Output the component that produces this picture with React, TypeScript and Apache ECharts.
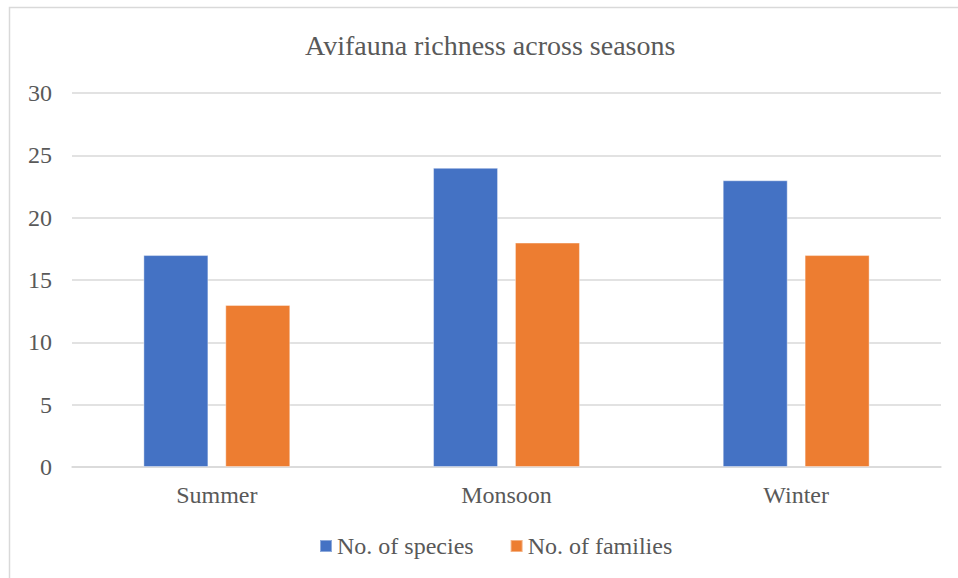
import React, { useEffect, useRef } from "react";
import * as echarts from "echarts";

const categories = ["Summer", "Monsoon", "Winter"];
const speciesValues = [17, 24, 23];
const familiesValues = [13, 18, 17];
const seriesNames = ["No. of species", "No. of families"];
const titleText = "Avifauna richness across seasons";

export default function App() {
  const ref = useRef<HTMLDivElement>(null);
  useEffect(() => {
    if (!ref.current) return;
    const chart = echarts.init(ref.current, null, { renderer: "svg" });
    const font = "Liberation Serif";
    const textColor = "#595959";
    chart.setOption({
      animation: false,
      backgroundColor: "#ffffff",
      textStyle: { fontFamily: font },
      graphic: [
        {
          type: "rect",
          shape: { x: 9.5, y: 7.5, width: 1000, height: 600 },
          style: { fill: "none", stroke: "#d9d9d9", lineWidth: 1.5 },
          silent: true,
          z: -1,
        },
      ],
      title: {
        text: titleText,
        left: 305,
        top: 31,
        padding: 0,
        textStyle: { fontFamily: font, fontSize: 28, fontWeight: "normal", color: textColor },
      },
      legend: {
        data: seriesNames,
        left: 319,
        top: 534,
        padding: 0,
        itemWidth: 12,
        itemHeight: 12,
        itemGap: 36,
        icon: "rect",
        textStyle: { fontFamily: font, fontSize: 24, color: textColor },
      },
      grid: { left: 72, right: 17, top: 93, bottom: 111, containLabel: false },
      xAxis: {
        type: "category",
        data: categories,
        axisLine: { show: true, lineStyle: { color: "#d9d9d9", width: 1.5 } },
        axisTick: { show: false },
        axisLabel: { fontFamily: font, fontSize: 24, color: textColor, margin: 16 },
      },
      yAxis: {
        type: "value",
        min: 0,
        max: 30,
        interval: 5,
        axisLine: { show: false },
        axisTick: { show: false },
        splitLine: { lineStyle: { color: "#d9d9d9", width: 1.5 } },
        axisLabel: { fontFamily: font, fontSize: 24, color: textColor, margin: 20 },
      },
      series: [
        {
          name: seriesNames[0],
          type: "bar",
          data: speciesValues,
          barWidth: 65,
          barGap: "26%",
          itemStyle: { color: "#4472C4", borderColor: "rgba(255,255,255,0.4)", borderWidth: 1 },
        },
        {
          name: seriesNames[1],
          type: "bar",
          data: familiesValues,
          barWidth: 65,
          barGap: "26%",
          itemStyle: { color: "#ED7D31", borderColor: "rgba(255,255,255,0.4)", borderWidth: 1 },
        },
      ],
    });
    return () => chart.dispose();
  }, []);
  return (
    <div
      ref={ref}
      style={{ position: "absolute", left: 0, top: 0, width: 958, height: 578 }}
    />
  );
}
